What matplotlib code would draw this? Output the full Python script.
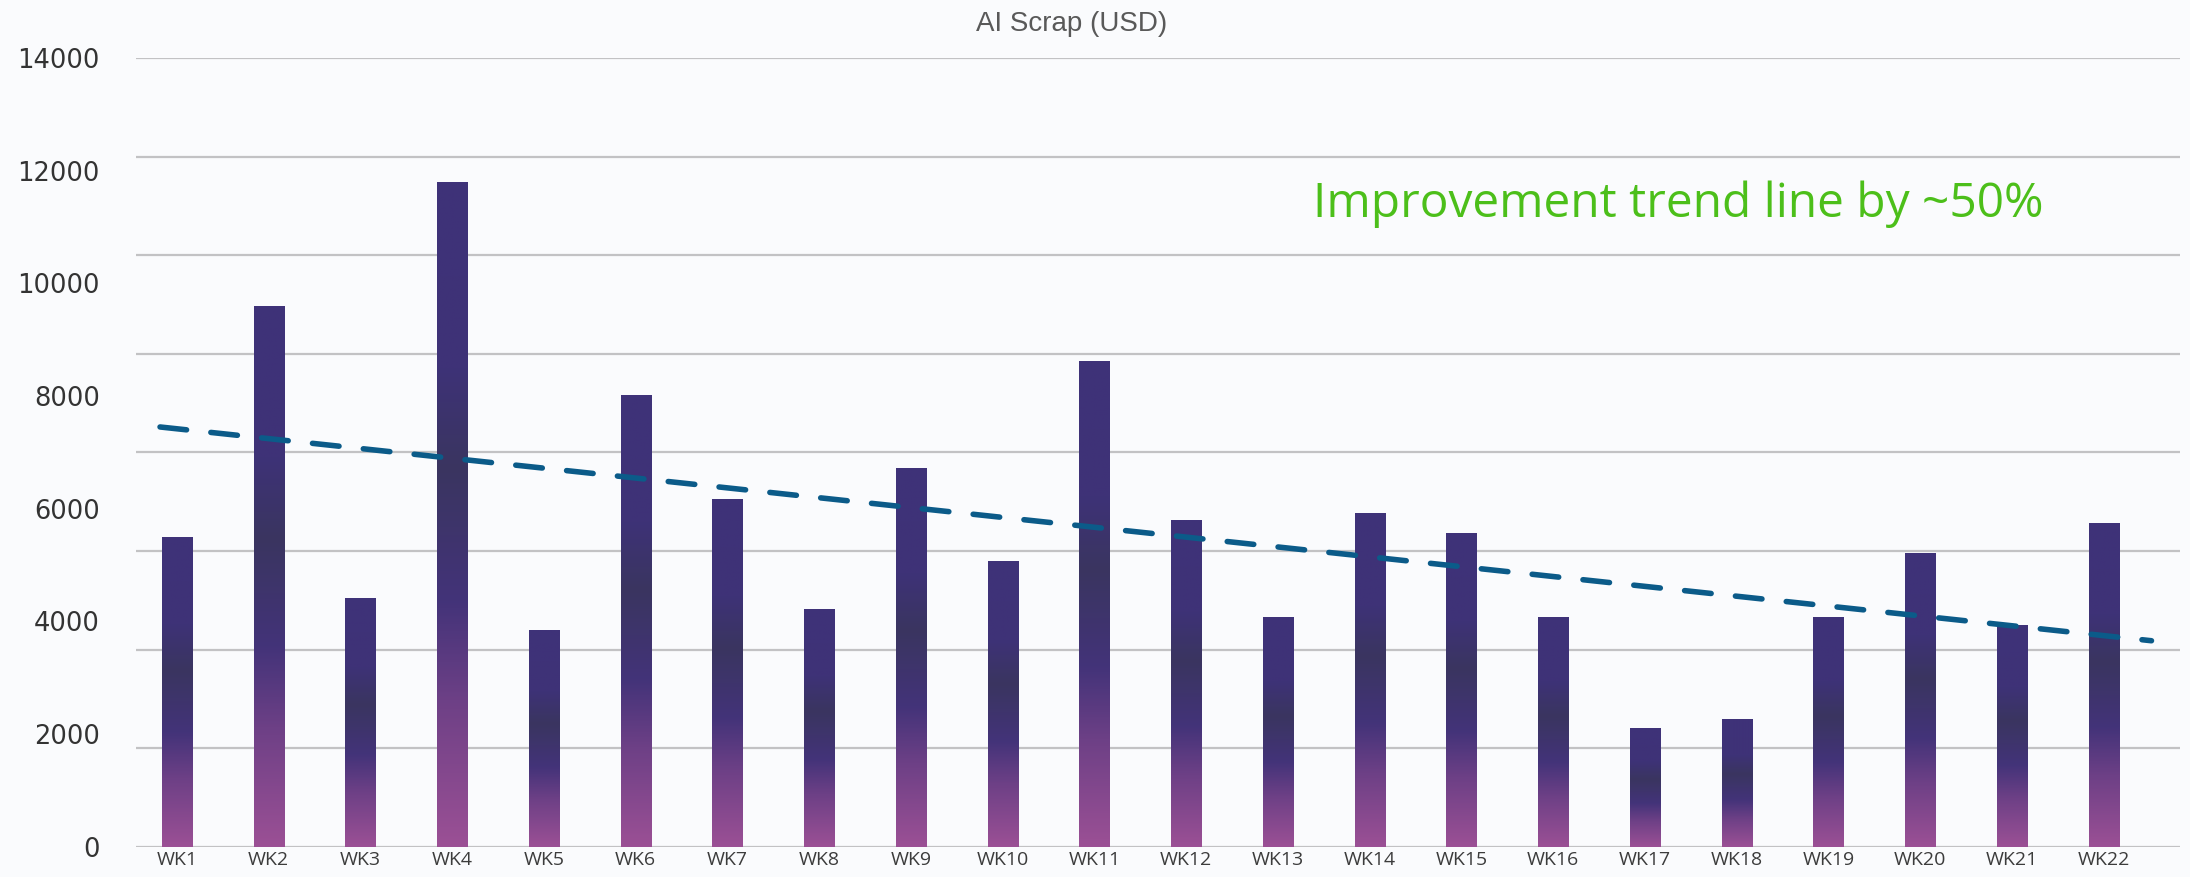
import matplotlib.pyplot as plt
import numpy as np
from matplotlib.colors import LinearSegmentedColormap

# data
weeks = ['WK%d' % i for i in range(1, 23)]
scrap = [5490, 9600, 4420, 11800, 3850, 8020, 6180, 4220, 6730, 5080, 8630,
         5800, 4080, 5930, 5560, 4080, 2110, 2270, 4080, 5220, 3930, 5740]
y_ticks = [0, 2000, 4000, 6000, 8000, 10000, 12000, 14000]
grid_levels = [0, 1750, 3500, 5250, 7000, 8750, 10500, 12250, 14000]

bg = '#fafbfd'
fig = plt.figure(figsize=(21.9, 8.77), dpi=100, facecolor=bg)
ax = fig.add_axes([0.0621, 0.0345, 0.9333, 0.8994], facecolor=bg)

x = np.arange(len(weeks))
bars = ax.bar(x, scrap, width=0.33, color='none', zorder=2)

# vertical gradient inside each bar (pink at the bottom, indigo on top)
cmap = LinearSegmentedColormap.from_list('bar', [
    (0.0, '#9b5095'), (0.22, '#6d4086'), (0.37, '#433379'),
    (0.57, '#3a3560'), (0.72, '#3e3277'), (1.0, '#3f3279')])
grad = np.linspace(0, 1, 256).reshape(-1, 1)
for b in bars:
    x0, w, h = b.get_x(), b.get_width(), b.get_height()
    im = ax.imshow(grad, cmap=cmap, origin='lower', aspect='auto',
                   extent=(x0, x0 + w, 0, h), zorder=2)
    im.set_clip_path(b)

# linear trend line
k, c = np.polyfit(x, scrap, 1)
xt = np.array([-0.185, 21.52])
ax.plot(xt, k * xt + c, color='#0b5b89', lw=4.0, dashes=(4.8, 4.4),
        dash_capstyle='round', zorder=3)

# grid lines (not aligned with tick labels in the original)
for g in grid_levels:
    ax.axhline(g, color='#c2c2c4', lw=1.6, zorder=1)

ax.set_xlim(-0.447, 21.83)
ax.set_ylim(0, 14000)
ax.set_yticks(y_ticks)
ax.set_yticklabels([str(v) for v in y_ticks], fontsize=18.5, color='#333333',
                   family='DejaVu Sans')
ax.set_xticks(x)
ax.set_xticklabels(weeks, fontsize=14, color='#3c3c3c', family='Open Sans')
ax.tick_params(axis='y', length=0, pad=26)
ax.tick_params(axis='x', length=0, pad=3)
for s in ax.spines.values():
    s.set_visible(False)

fig.text(1072 / 2190, 1 - 24 / 877, 'AI Scrap (USD)', ha='center', va='center',
         fontsize=20, color='#595959', family='Liberation Sans')
fig.text(1313 / 2190, 1 - 204 / 877, 'Improvement trend line by ~50%',
         ha='left', va='center', fontsize=34.5, color='#4cbf1a', family='Open Sans')

plt.savefig('out.png', dpi=100, facecolor=bg)
